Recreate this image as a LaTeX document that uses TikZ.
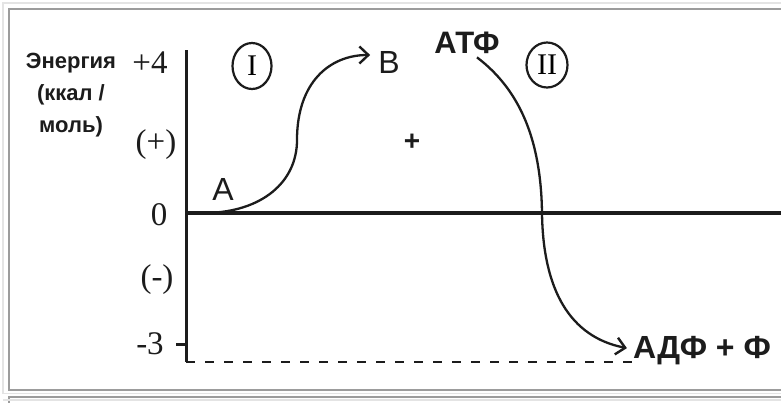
\documentclass[tikz,border=0pt]{standalone}
\usepackage{fontspec}
\setmainfont{Liberation Serif}
\setsansfont{Liberation Sans}
\usetikzlibrary{arrows.meta, shapes.geometric}
\definecolor{framegray}{HTML}{9C9C9C}
\definecolor{framelight}{HTML}{E4E4E4}
\definecolor{inkblack}{HTML}{1C1C1C}

\begin{document}
\begin{tikzpicture}[
    x=1pt, y=-1pt,
    axisline/.style={draw=inkblack, line width=3pt},
    reaction/.style={draw=inkblack, line width=2.3pt, -{Straight Barb[length=9pt, width=17pt, line width=2.4pt]}},
    numlbl/.style={font=\fontsize{33}{33}\selectfont, text=inkblack, inner sep=0pt},
    substlbl/.style={font=\sffamily\fontsize{32}{32}\selectfont, text=inkblack, inner sep=0pt},
    boldlbl/.style={font=\sffamily\bfseries\fontsize{#1}{#1}\selectfont, text=inkblack, inner sep=0pt},
    stage/.style={draw=inkblack, line width=2.2pt, ellipse, minimum width=39pt, minimum height=46pt, inner sep=0pt, font=\fontsize{30}{30}\selectfont},
]

% Page and frame
\useasboundingbox[fill=white] (0,0) rectangle (781,402);
\draw[framelight, line width=1.2pt] (3,3) rectangle (800,393.5);
\draw[framegray, line width=1.6pt] (9,9) rectangle (800,390);
\draw[framegray, line width=1.6pt] (9,397) rectangle (800,430);
\draw[framelight, line width=1.2pt] (3,400) -- (800,400);

% Axes
\draw[axisline] (186,50) -- (186,362);
\draw[axisline, line width=3.6pt] (186,213) -- (800,213);
\draw[axisline] (176,344) -- (186,344);
\draw[axisline, line width=2.8pt, dash pattern=on 9pt off 10pt] (186,362) -- (640,362);

% Axis title
\node[boldlbl=22, align=center, anchor=north, font=\sffamily\bfseries\fontsize{22}{32}\selectfont] (energy) at (71,53) {Энергия\\(ккал /\\моль)};

% Scale labels
\node[numlbl, anchor=base] (plusfour) at (150,73) {+4};
\node[numlbl] (pos) at (156,145) {(+)};
\node[numlbl] (zero) at (159,215) {0};
\node[numlbl] (neg) at (157,280) {(-)};
\node[numlbl] (minusthree) at (150,344) {-3};

% Stages
\node[stage] (st1) at (252,66) {I};
\node[stage, minimum width=41pt, minimum height=45pt] (st2) at (547,65) {II};

% Substances
\node[substlbl, anchor=base] (subA) at (223,200) {A};
\node[substlbl, anchor=base] (subB) at (389,73) {B};
\node[boldlbl=31, anchor=base] (atf) at (467,53) {АТФ};
\node[boldlbl=32, anchor=base] (adf) at (702,358) {АДФ + Ф};
\node[boldlbl=28] (sign) at (412,142) {+};

% Reactions
\coordinate (aStart) at (206,213);
\draw[reaction] (aStart) .. controls (262,212) and (297,182) .. (297,140)
  .. controls (297,82) and (330,55) .. ([shift={(-8,-7)}]subB.west);
\draw[reaction] ([shift={(10,4)}]atf.south) .. controls (520,90) and (541,140) .. (542,213)
  .. controls (543,290) and (570,337) .. ([shift={(-6,-2)}]adf.west);

\end{tikzpicture}
\end{document}
